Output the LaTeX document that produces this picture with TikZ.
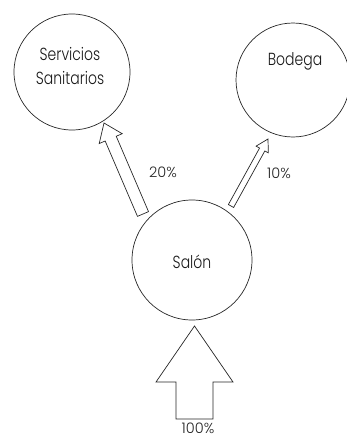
\documentclass[tikz,border=0pt]{standalone}
\usepackage{fontspec}
\setmainfont{Poppins}[UprightFont=* Light]
\newfontfamily\condfont{Poppins}[UprightFont=* Light, FakeStretch=0.8]
\usetikzlibrary{calc}
\tikzset{
  room/.style={draw=black!85, line width=0.7pt, circle, inner sep=0pt},
  roomtext/.style={font=\condfont\fontsize{17.5}{21}\selectfont, text=black!90, align=center, inner sep=0pt},
  pct/.style={font=\fontsize{14.5}{16}\selectfont, text=black!85, inner sep=0pt},
  arrowbox/.style={draw=black!85, line width=0.7pt, fill=white, line join=miter},
}
\newcommand\blockarr[5]{%
  \coordinate (#1h) at ($(#2)!#5!(#1)$);
  \draw[arrowbox] ($(#1)!#3!90:(#2)$) -- ($(#1h)!#3!90:(#2)$) -- ($(#1h)!#4!90:(#2)$)
    -- (#2) -- ($(#1h)!#4!-90:(#2)$) -- ($(#1h)!#3!-90:(#2)$) -- ($(#1)!#3!-90:(#2)$) -- cycle;}
\begin{document}
\begin{tikzpicture}[x=1pt,y=-1pt]
\useasboundingbox (0,0) rectangle (347,439);
\node[room, minimum size=116pt] (ss) at (72,72) {};
\node[room, minimum size=114pt] (bod) at (293,80) {};
\node[room, minimum size=120pt] (sal) at (192,260) {};
\node[roomtext] (sstxt) at (70,66) {Servicios\\[3pt]Sanitarios};
\node[roomtext] (bodtxt) at (295,61) {Bodega};
\node[roomtext] (saltxt) at (192,262) {Salón};
\coordinate (b1) at (143,214); \coordinate (t1) at (104,123);
\coordinate (b2) at (231,206); \coordinate (t2) at (268,139);
\coordinate (b3) at (194.5,419); \coordinate (t3) at (194.5,326);
\blockarr{b1}{t1}{6pt}{12.5pt}{17pt}
\blockarr{b2}{t2}{3pt}{7pt}{12pt}
\blockarr{b3}{t3}{18.5pt}{38.5pt}{56pt}
\node[pct] (p20) at (163,172) {20\%};
\node[pct] (p10) at (279,173) {10\%};
\node[pct] (p100) at (198,428) {100\%};
\end{tikzpicture}
\end{document}
